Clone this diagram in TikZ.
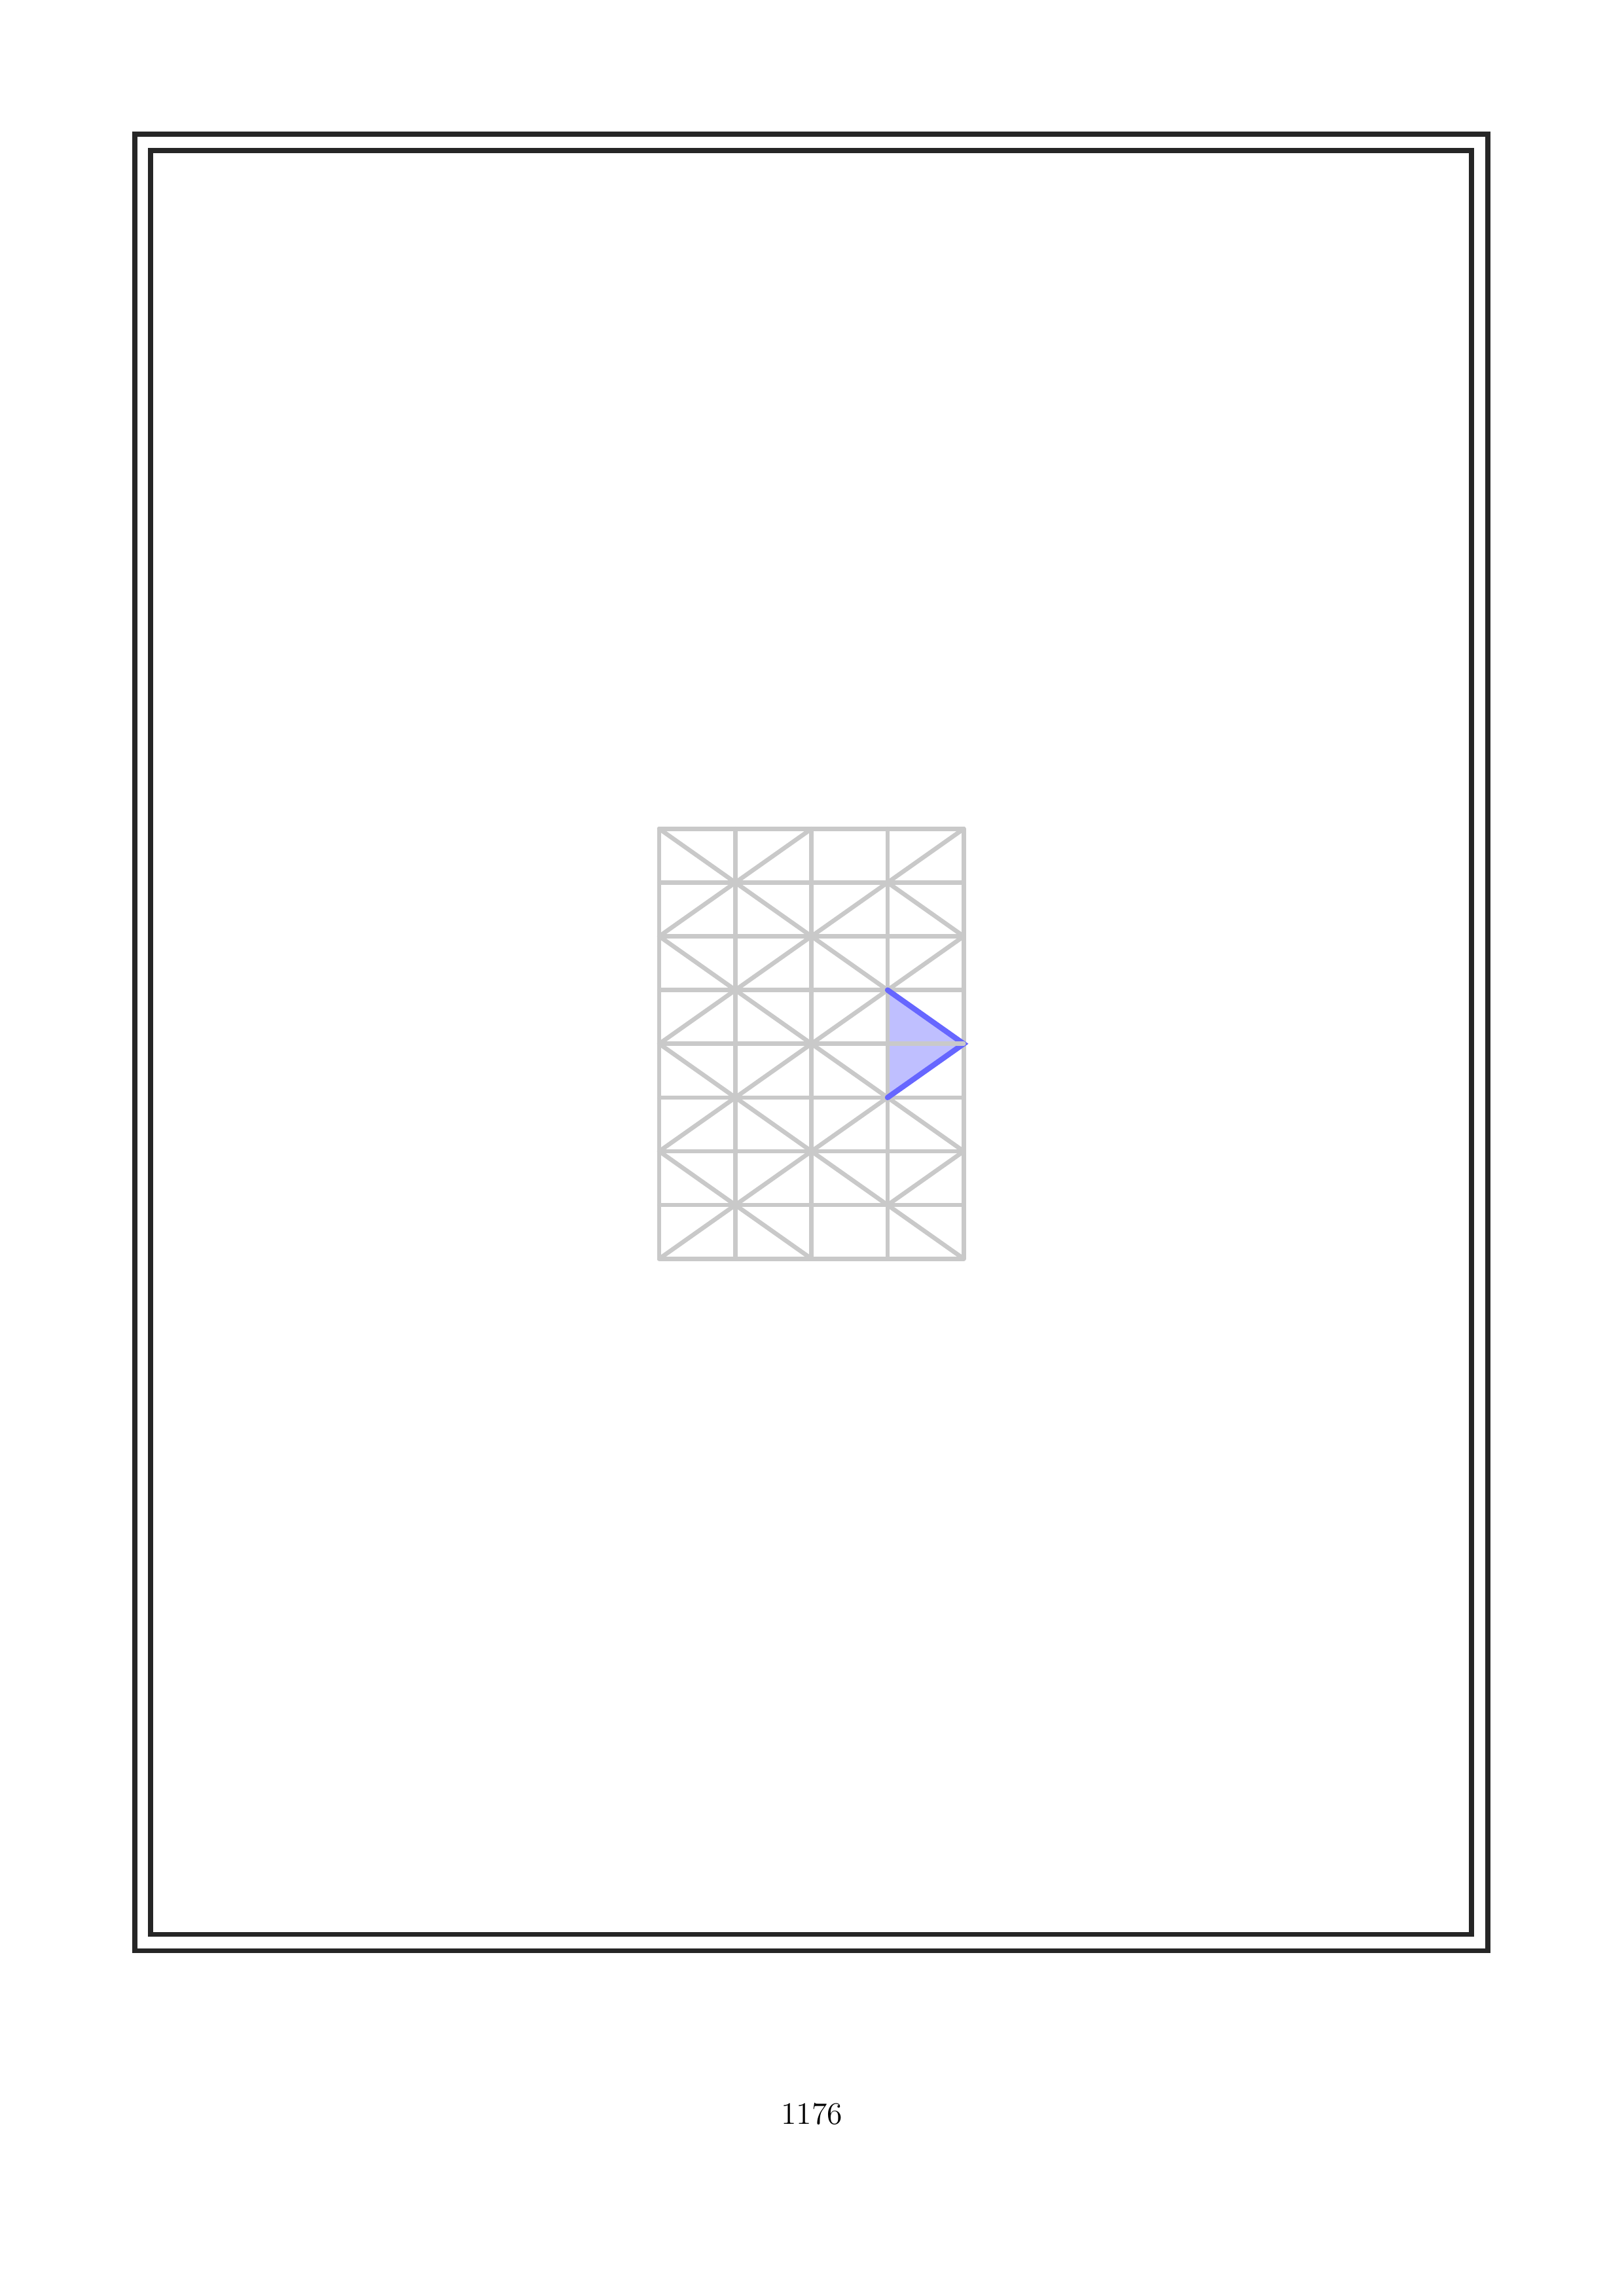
\documentclass[tikz,border=0pt]{standalone}
\usepackage{tikz}
\tikzset{
    framerule/.style={line width=1.9pt, black!85},
    gridrule/.style={line width=1.6pt, black!21, line cap=round},
    hiliterule/.style={line width=2pt, blue!60, line cap=round},
}
\begin{document}
\begin{tikzpicture}
    \useasboundingbox (0,0) rectangle (21,29.7);
        % double frame
        \draw[framerule] (1.744,4.466) rectangle (19.247,27.964);
        \draw[framerule] (1.948,4.678) rectangle (19.035,27.752);

    \begin{scope}[shift={(8.527,13.417)}, x=0.9844cm, y=0.6952cm]
        \fill[blue!25] (3,5) -- (4,4) -- (3,3) -- cycle;
        \draw[blue!60, thin] (3,3) -- (3,5);

        \foreach \i in {0,...,4} \draw[gridrule] (\i,0) -- (\i,8);
        \foreach \j in {0,...,8} \draw[gridrule] (0,\j) -- (4,\j);

        \draw[gridrule] (0,8) -- (1,7) -- (2,8);
        \draw[gridrule] (3,7) -- (4,8);
        \draw[gridrule] (0,6) -- (1,7) -- (2,6) -- (3,7) -- (4,6);
        \draw[gridrule] (0,6) -- (1,5) -- (2,6) -- (3,5) -- (4,6);
        \draw[gridrule] (0,4) -- (1,5) -- (2,4) -- (3,5) -- (4,4);
        \draw[gridrule] (0,4) -- (1,3) -- (2,4) -- (3,3) -- (4,4);
        \draw[gridrule] (0,2) -- (1,3) -- (2,2) -- (3,3) -- (4,2);
        \draw[gridrule] (0,2) -- (1,1) -- (2,2) -- (3,1) -- (4,2);
        \draw[gridrule] (0,0) -- (1,1) -- (2,0);
        \draw[gridrule] (3,1) -- (4,0);

        \draw[hiliterule] (3,5) -- (4,4) -- (3,3);
        \draw[gridrule] (3,4) -- (4,4);
    \end{scope}

        \node[anchor=base] (pagenum) at (10.5,2.22) {\fontsize{11.5}{13}\selectfont 1176};
\end{tikzpicture}
\end{document}
